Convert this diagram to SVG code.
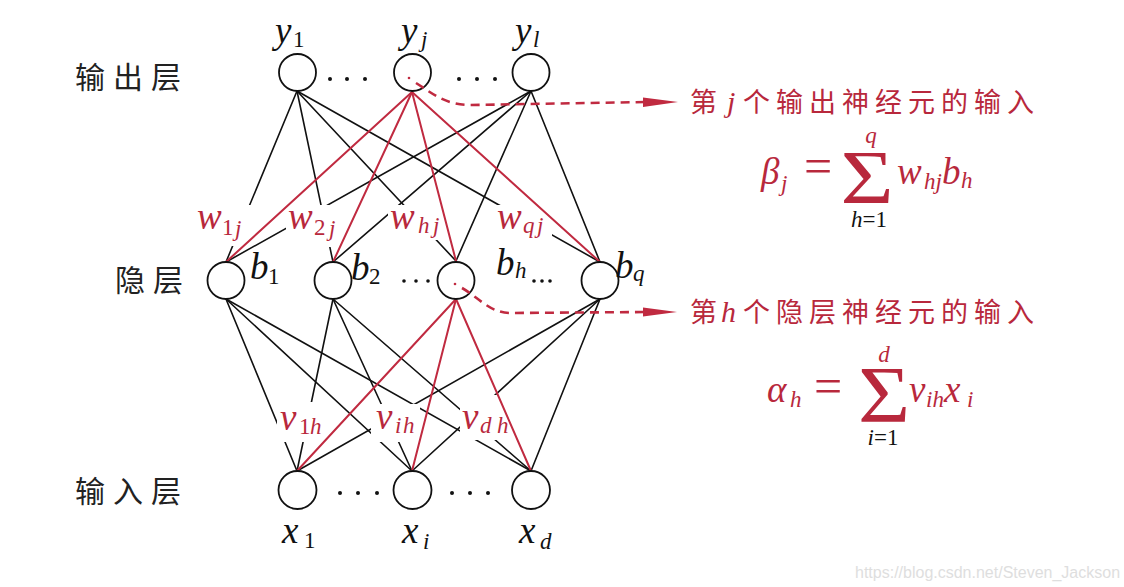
<svg xmlns="http://www.w3.org/2000/svg" width="1124" height="587" viewBox="0 0 1124 587">
<style>
.bl{stroke:#111;stroke-width:1.6;fill:none;stroke-linecap:round}
.rd{stroke:#c02a40;stroke-width:2;fill:none;stroke-linecap:round}
.dash{stroke:#c02a40;stroke-width:2.6;fill:none;stroke-dasharray:9 6}
.msk{fill:#fff;stroke:none}
.node{fill:#fff;stroke:#111;stroke-width:1.8}
.mi{font-family:"Liberation Serif",serif;font-style:italic;font-size:37px;fill:#111}
.sb{font-family:"Liberation Serif",serif;font-size:23px;fill:#111}
.si{font-family:"Liberation Serif",serif;font-style:italic;font-size:23px;fill:#111}
.red{fill:#b8283c}
.cjk{font-family:"Noto Sans CJK SC","Noto Sans",sans-serif;font-size:30px;fill:#222;letter-spacing:8px}
.cjkr{font-family:"Noto Sans CJK SC","Noto Sans",sans-serif;font-size:27px;fill:#b8283c;letter-spacing:6px}
.dot{fill:#111}
.wm{font-family:"Liberation Sans",sans-serif;font-size:16px;fill:#dedede}
</style>
<rect width="1124" height="587" fill="#fff"/>
<g id="connectors">
  <g id="black-lines">
    <line class="bl" x1="297" y1="91" x2="226" y2="262"/>
    <line class="bl" x1="297" y1="91" x2="333" y2="262"/>
    <line class="bl" x1="297" y1="91" x2="456" y2="261"/>
    <line class="bl" x1="297" y1="91" x2="600" y2="262"/>
    <line class="bl" x1="531" y1="91" x2="226" y2="262"/>
    <line class="bl" x1="531" y1="91" x2="333" y2="262"/>
    <line class="bl" x1="531" y1="91" x2="456" y2="261"/>
    <line class="bl" x1="531" y1="91" x2="600" y2="262"/>
    <line class="bl" x1="226" y1="299" x2="297" y2="471"/>
    <line class="bl" x1="226" y1="299" x2="412" y2="471"/>
    <line class="bl" x1="226" y1="299" x2="531" y2="471"/>
    <line class="bl" x1="333" y1="299" x2="297" y2="471"/>
    <line class="bl" x1="333" y1="299" x2="412" y2="471"/>
    <line class="bl" x1="333" y1="299" x2="531" y2="471"/>
    <line class="bl" x1="600" y1="299" x2="297" y2="471"/>
    <line class="bl" x1="600" y1="299" x2="412" y2="471"/>
    <line class="bl" x1="600" y1="299" x2="531" y2="471"/>
  </g>
  <g id="label-masks">
    <rect class="msk" x="194" y="205" width="58" height="41"/>
    <rect class="msk" x="286" y="205" width="62" height="42"/>
    <rect class="msk" x="388" y="205" width="59" height="35"/>
    <rect class="msk" x="497" y="205" width="55" height="37"/>
    <rect class="msk" x="277" y="402" width="57" height="40"/>
    <rect class="msk" x="371" y="404" width="49" height="38"/>
    <rect class="msk" x="460" y="395" width="52" height="45"/>
  </g>
  <g id="red-lines">
    <line class="rd" x1="412" y1="92" x2="226" y2="262"/>
    <line class="rd" x1="412" y1="92" x2="333" y2="262"/>
    <line class="rd" x1="412" y1="92" x2="456" y2="261"/>
    <line class="rd" x1="412" y1="92" x2="600" y2="262"/>
    <line class="rd" x1="456" y1="299" x2="297" y2="471"/>
    <line class="rd" x1="456" y1="299" x2="412" y2="471"/>
    <line class="rd" x1="456" y1="299" x2="531" y2="471"/>
  </g>
</g>
<g id="edge-labels">
  <text class="mi red" x="197" y="229">w</text><text class="sb red" x="222" y="235">1</text><text class="si red" x="235" y="236">j</text>
  <text class="mi red" x="288" y="229">w</text><text class="sb red" x="314" y="235">2</text><text class="si red" x="329" y="236">j</text>
  <text class="mi red" x="390" y="229">w</text><text class="si red" x="418" y="233">h</text><text class="si red" x="433" y="233">j</text>
  <text class="mi red" x="497" y="229">w</text><text class="si red" x="523" y="233">q</text><text class="si red" x="537" y="233">j</text>
  <text class="mi red" x="280" y="430">v</text><text class="sb red" x="299" y="434">1</text><text class="si red" x="310" y="434">h</text>
  <text class="mi red" x="376" y="429">v</text><text class="si red" x="395" y="433">i</text><text class="si red" x="403" y="433">h</text>
  <text class="mi red" x="462" y="429">v</text><text class="si red" x="480" y="433">d</text><text class="si red" x="497" y="433">h</text>
</g>
<g id="node-y1"><circle class="node" cx="297.5" cy="72.5" r="18.5"/><text class="mi" x="275" y="43">y</text><text class="sb" x="293" y="47">1</text></g>
<g id="node-yj"><circle class="node" cx="412.5" cy="72.5" r="18.5"/><text class="mi" x="401" y="43">y</text><text class="si" x="421" y="47">j</text></g>
<g id="node-yl"><circle class="node" cx="531" cy="72.5" r="18.5"/><text class="mi" x="515" y="43">y</text><text class="si" x="533" y="47">l</text></g>
<g id="node-b1"><circle class="node" cx="226" cy="280.5" r="18.5"/><text class="mi" x="250" y="279">b</text><text class="sb" x="268" y="284">1</text></g>
<g id="node-b2"><circle class="node" cx="333" cy="280.5" r="18.5"/><text class="mi" x="351" y="280">b</text><text class="sb" x="369" y="284">2</text></g>
<g id="node-bh"><circle class="node" cx="456" cy="280.5" r="18.5"/><text class="mi" x="496" y="275">b</text><text class="si" x="515" y="278">h</text></g>
<g id="node-bq"><circle class="node" cx="600" cy="280.5" r="18.5"/><text class="mi" x="615" y="278">b</text><text class="si" x="633" y="281">q</text></g>
<g id="node-x1"><circle class="node" cx="297.5" cy="490" r="19"/><text class="mi" x="282" y="543">x</text><text class="sb" x="304" y="548">1</text></g>
<g id="node-xi"><circle class="node" cx="412.5" cy="490" r="19"/><text class="mi" x="402" y="543">x</text><text class="si" x="423" y="549">i</text></g>
<g id="node-xd"><circle class="node" cx="531" cy="490" r="19"/><text class="mi" x="519" y="543">x</text><text class="si" x="540" y="549">d</text></g>
<g id="ellipses">
  <circle class="dot" cx="330" cy="79" r="2"/><circle class="dot" cx="347" cy="79" r="2"/><circle class="dot" cx="365" cy="79" r="2"/>
  <circle class="dot" cx="459" cy="79" r="2"/><circle class="dot" cx="477" cy="79" r="2"/><circle class="dot" cx="495" cy="79" r="2"/>
  <circle class="dot" cx="404" cy="281" r="1.8"/><circle class="dot" cx="416" cy="281" r="1.8"/><circle class="dot" cx="428" cy="281" r="1.8"/>
  <circle class="dot" cx="534" cy="281" r="1.8"/><circle class="dot" cx="542" cy="281" r="1.8"/><circle class="dot" cx="550" cy="281" r="1.8"/>
  <circle class="dot" cx="340" cy="493" r="2"/><circle class="dot" cx="358" cy="493" r="2"/><circle class="dot" cx="377" cy="493" r="2"/>
  <circle class="dot" cx="452" cy="493" r="2"/><circle class="dot" cx="470" cy="493" r="2"/><circle class="dot" cx="488" cy="493" r="2"/>
</g>
<g id="annotation-arrows">
  <circle cx="409" cy="78" r="1.3" fill="#c02a40"/>
  <path class="dash" d="M 416,83 C 432,93 445,105 470,105 L 646,102"/>
  <polygon points="643,97.5 678,102 643,107" fill="#c02a40"/>
  <circle cx="455" cy="284" r="1.3" fill="#c02a40"/>
  <path class="dash" d="M 462,288 C 478,297 490,313 510,313 L 646,312"/>
  <polygon points="643,307.5 677,312 643,316.5" fill="#c02a40"/>
</g>
<g id="layer-labels">
  <text class="cjk" x="75" y="88">输出层</text>
  <text class="cjk" x="115" y="291">隐层</text>
  <text class="cjk" x="75" y="502">输入层</text>
</g>
<g id="annotation-output">
  <text class="cjkr" x="690" y="112">第<tspan class="mi red" x="727" style="font-size:30px">j</tspan><tspan x="743">个输出神经元的输入</tspan></text>
  <text class="mi red" x="761" y="184">β</text><text class="si red" x="781" y="191">j</text>
  <text class="red" x="818" y="183" text-anchor="middle" style="font-family:'Liberation Serif',serif;font-size:50px">=</text>
  <text class="red" transform="translate(867,203) scale(1.2,1)" text-anchor="middle" style="font-family:'Liberation Serif',serif;font-size:76px">Σ</text>
  <text class="si red" x="871" y="143" text-anchor="middle">q</text>
  <text class="red" x="869" y="227" text-anchor="middle"><tspan class="si">h</tspan><tspan class="sb">=1</tspan></text>
  <text class="mi red" x="897" y="184">w</text><text class="si red" x="924" y="189">hj</text><text class="mi red" x="942" y="184">b</text><text class="si red" x="961" y="188">h</text>
</g>
<g id="annotation-hidden">
  <text class="cjkr" x="690" y="322">第<tspan class="mi red" x="721" style="font-size:30px">h</tspan><tspan x="743">个隐层神经元的输入</tspan></text>
  <text class="mi red" x="767" y="402">α</text><text class="si red" x="790" y="407">h</text>
  <text class="red" x="828" y="403" text-anchor="middle" style="font-family:'Liberation Serif',serif;font-size:50px">=</text>
  <text class="red" transform="translate(884,422) scale(1.12,1)" text-anchor="middle" style="font-family:'Liberation Serif',serif;font-size:80px">Σ</text>
  <text class="si red" x="884" y="362" text-anchor="middle">d</text>
  <text class="red" x="883" y="445" text-anchor="middle"><tspan class="si">i</tspan><tspan class="sb">=1</tspan></text>
  <text class="mi red" x="909" y="402">v</text><text class="si red" x="926" y="407">ih</text><text class="mi red" x="944" y="402">x</text><text class="si red" x="967" y="407">i</text>
</g>
<text class="wm" x="855" y="578">https://blog.csdn.net/Steven_Jackson</text>
</svg>
